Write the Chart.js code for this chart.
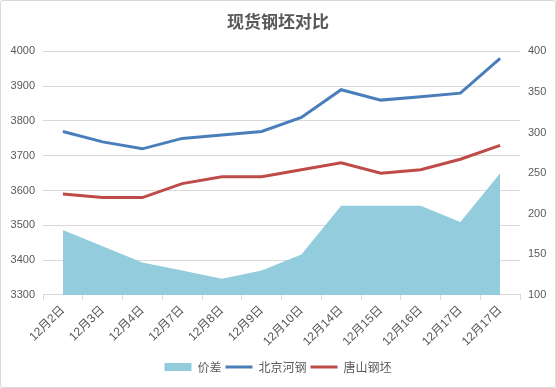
<!DOCTYPE html>
<html><head><meta charset="utf-8">
<script src="https://cdn.jsdelivr.net/npm/chart.js@4/dist/chart.umd.min.js"></script>
<style>
html,body{margin:0;padding:0;background:#fff;}
#wrap{position:absolute;left:0;top:0;width:556px;height:388px;box-sizing:border-box;border:1px solid #d9d9d9;border-radius:3px;}
canvas{display:block;}
</style></head>
<body><div id="wrap"><canvas id="c" width="554" height="386"></canvas></div>
<script>
const categories = ['12月2日','12月3日','12月4日','12月7日','12月8日','12月9日','12月10日','12月14日','12月15日','12月16日','12月17日','12月17日'];
const beijing = [3770,3740,3720,3750,3760,3770,3810,3890,3860,3870,3880,3980];
const tangshan = [3590,3580,3580,3620,3640,3640,3660,3680,3650,3660,3690,3730];
const spread = [180,160,140,130,120,130,150,210,210,210,190,250];
const leftTicks = [3300,3400,3500,3600,3700,3800,3900,4000];
const rightTicks = [100,150,200,250,300,350,400];

const txt = '#595959';
const tickFont = {family:'"Liberation Sans","Noto Sans CJK SC",sans-serif', size:11};
const xFont = {family:'"Liberation Sans","Noto Sans CJK SC",sans-serif', size:12};
const cjk = '"Noto Sans CJK SC",sans-serif';

new Chart(document.getElementById('c'), {
  type:'line',
  data:{
    labels:categories,
    datasets:[
      {label:'价差', data:spread, yAxisID:'y1', fill:'start', backgroundColor:'#93CDDD', borderColor:'#93CDDD', borderWidth:0, pointRadius:0, pointStyle:'rect', order:3},
      {label:'北京河钢', data:beijing, yAxisID:'y', fill:false, borderColor:'#4A7EBB', backgroundColor:'#4A7EBB', borderWidth:3, pointRadius:0, pointStyle:'line', order:1},
      {label:'唐山钢坯', data:tangshan, yAxisID:'y', fill:false, borderColor:'#BE4B48', backgroundColor:'#BE4B48', borderWidth:3, pointRadius:0, pointStyle:'line', order:2}
    ]
  },
  options:{
    responsive:false, animation:false,
    layout:{padding:{left:0,right:0,top:0,bottom:4}},
    plugins:{
      title:{display:true, text:'现货钢坯对比', color:txt, font:{family:cjk, size:17, weight:'bold'}, padding:{top:10,bottom:20}},
      legend:{position:'bottom',
        labels:{usePointStyle:true, pointStyleWidth:27, boxHeight:8, color:txt, font:{family:cjk, size:12}, padding:4,
          sort:(a,b)=>a.datasetIndex-b.datasetIndex}},
      tooltip:{enabled:false}
    },
    scales:{
      x:{offset:true,
        afterFit:s=>{s.height+=5;},
        grid:{display:true, drawOnChartArea:false, drawTicks:true, tickLength:5, offset:true, color:'#d9d9d9'},
        border:{display:true, color:'#d9d9d9'},
        ticks:{color:txt, font:xFont, minRotation:45, maxRotation:45, autoSkip:false, padding:3}},
      y:{position:'left', min:3300, max:4000,
        afterBuildTicks:s=>{s.ticks=leftTicks.map(v=>({value:v}));},
        afterFit:s=>{s.width=42;},
        grid:{color:'#d9d9d9', drawTicks:false},
        border:{display:false},
        ticks:{color:txt, font:tickFont, padding:8, callback:v=>String(v)}},
      y1:{position:'right', min:100, max:400,
        afterBuildTicks:s=>{s.ticks=rightTicks.map(v=>({value:v}));},
        afterFit:s=>{s.width=35;},
        grid:{drawOnChartArea:false, drawTicks:false},
        border:{display:false},
        ticks:{color:txt, font:tickFont, padding:8, callback:v=>String(v)}}
    }
  }
});
</script></body></html>
